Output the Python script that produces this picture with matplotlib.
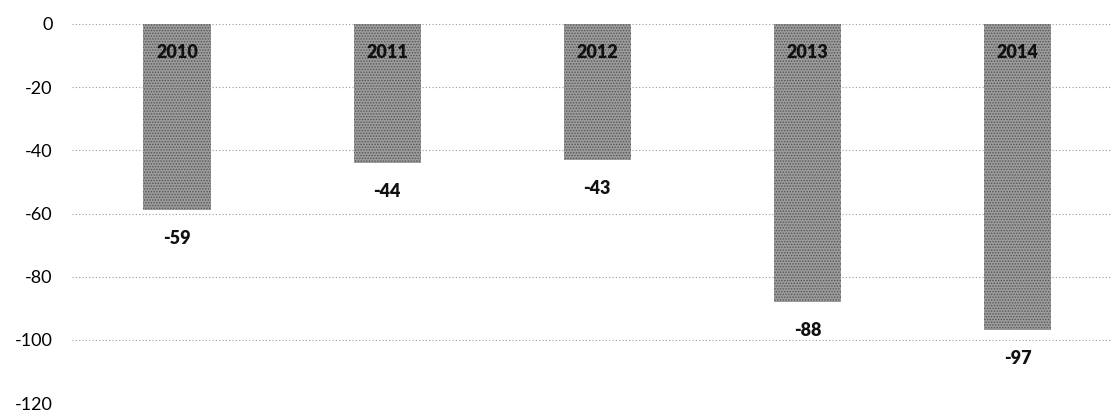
import matplotlib

matplotlib.use("Agg")
import matplotlib.pyplot as plt

years = ["2010", "2011", "2012", "2013", "2014"]
values = [-59, -44, -43, -88, -97]
y_ticks = [0, -20, -40, -60, -80, -100, -120]

plt.rcParams["font.family"] = ["Lato", "DejaVu Sans"]
plt.rcParams["hatch.color"] = "#555555"
plt.rcParams["hatch.linewidth"] = 0.7

fig = plt.figure(figsize=(11.12, 4.12), dpi=100)
# plot area: y=0 at 24px from the top, y=-120 at 403px
ax = fig.add_axes([72 / 1112, 9 / 412, 1 - 72 / 1112, 379 / 412])

x = list(range(len(years)))
ax.bar(x, values, width=0.32, color="#9c9c9c", hatch="......", linewidth=0, zorder=2)

for xi, year, val in zip(x, years, values):
    ax.text(xi, -9, year, ha="center", va="center", fontsize=13,
            fontweight="heavy", color="#111111", zorder=3)
    ax.text(xi, val - 9, str(val), ha="center", va="center", fontsize=13,
            fontweight="heavy", color="#111111", zorder=3)

ax.set_xlim(-0.5, 4.45)
ax.set_ylim(-120, 0)
ax.set_yticks(y_ticks)
ax.set_yticklabels([str(t) for t in y_ticks], fontsize=13)
ax.set_xticks([])
ax.tick_params(axis="y", length=0, pad=14)
ax.grid(axis="y", linestyle=(0, (1, 2)), color="#9a9a9a", linewidth=0.8, zorder=1)
for spine in ax.spines.values():
    spine.set_visible(False)
ax.patch.set_visible(False)

fig.savefig("out.png", dpi=100)
